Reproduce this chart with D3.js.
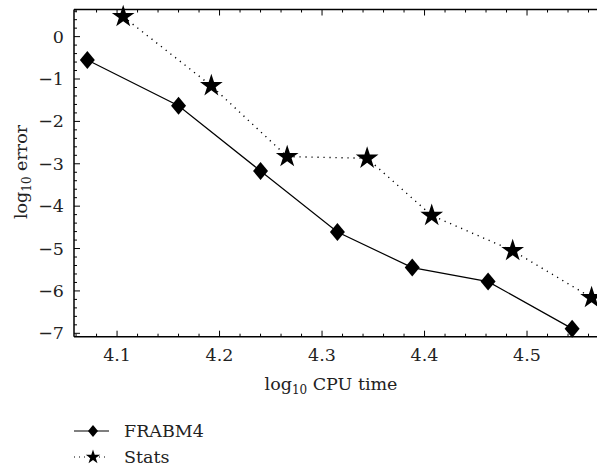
<!DOCTYPE html>
<html>
<head>
<meta charset="utf-8">
<script src="https://cdn.jsdelivr.net/npm/d3@7"></script>
<style>
  body { margin: 0; background: #fff; }
  text { font-family: "DejaVu Serif", "Liberation Serif", serif; fill: #222; }
</style>
</head>
<body>
<svg id="chart" width="597" height="467"></svg>
<script>
// data
const frabmX = [4.071, 4.160, 4.240, 4.315, 4.388, 4.462, 4.544];
const frabmY = [-0.55, -1.63, -3.17, -4.61, -5.45, -5.78, -6.89];
const statsX = [4.106, 4.192, 4.266, 4.344, 4.407, 4.486, 4.563];
const statsY = [0.47, -1.16, -2.83, -2.87, -4.22, -5.05, -6.16];
const xTicks = [4.1, 4.2, 4.3, 4.4, 4.5];
const yTicks = [0, -1, -2, -3, -4, -5, -6, -7];
const seriesNames = ["FRABM4", "Stats"];

const svg = d3.select("#chart");
const mLeft = 74, mTop = 9.5, mRight = 608, mBottom = 336.7;
const fs = 17.5, subFs = 12;

const x = d3.scaleLinear().domain([4.058, 4.579]).range([mLeft, mRight]);
const y = d3.scaleLinear().domain([-7.08, 0.64]).range([mBottom, mTop]);

// frame lines (right side runs off the picture)
const frame = svg.append("g").attr("stroke", "#000").attr("stroke-width", 1.5);
frame.append("line").attr("x1", mLeft).attr("x2", mRight).attr("y1", mTop).attr("y2", mTop);
frame.append("line").attr("x1", mLeft).attr("x2", mRight).attr("y1", mBottom).attr("y2", mBottom);
frame.append("line").attr("x1", mLeft).attr("x2", mLeft).attr("y1", mTop).attr("y2", mBottom);

// minor ticks
const xMinor = d3.range(4.06, 4.58, 0.02).filter(v => !xTicks.some(t => Math.abs(t - v) < 1e-6));
const yMinor = d3.range(-7, 0.65, 0.2).filter(v => !yTicks.some(t => Math.abs(t - v) < 1e-6));

const ticks = svg.append("g").attr("stroke", "#000").attr("stroke-width", 1);
xTicks.forEach(v => {
  ticks.append("line").attr("x1", x(v)).attr("x2", x(v)).attr("y1", mBottom).attr("y2", mBottom - 6);
  ticks.append("line").attr("x1", x(v)).attr("x2", x(v)).attr("y1", mTop).attr("y2", mTop + 6);
});
xMinor.forEach(v => {
  ticks.append("line").attr("x1", x(v)).attr("x2", x(v)).attr("y1", mBottom).attr("y2", mBottom - 3);
  ticks.append("line").attr("x1", x(v)).attr("x2", x(v)).attr("y1", mTop).attr("y2", mTop + 3);
});
yTicks.forEach(v => {
  ticks.append("line").attr("x1", mLeft).attr("x2", mLeft + 6).attr("y1", y(v)).attr("y2", y(v));
});
yMinor.forEach(v => {
  ticks.append("line").attr("x1", mLeft).attr("x2", mLeft + 3).attr("y1", y(v)).attr("y2", y(v));
});

// tick labels
svg.append("g").selectAll("text").data(xTicks).join("text")
  .attr("x", d => x(d)).attr("y", mBottom + 24)
  .attr("text-anchor", "middle").attr("font-size", fs)
  .text(d => d.toFixed(1));

svg.append("g").selectAll("text").data(yTicks).join("text")
  .attr("x", mLeft - 10).attr("y", d => y(d) + 6)
  .attr("text-anchor", "end").attr("font-size", fs)
  .text(d => d === 0 ? "0" : "\u2212" + Math.abs(d));

// axis titles
const xt = svg.append("text").attr("x", 331).attr("y", 390)
  .attr("text-anchor", "middle").attr("font-size", fs);
xt.append("tspan").text("log");
xt.append("tspan").attr("font-size", subFs).attr("dy", 4).text("10");
xt.append("tspan").attr("dy", -4).text(" CPU time");

const yt = svg.append("text").attr("transform", "translate(27,172) rotate(-90)")
  .attr("text-anchor", "middle").attr("font-size", fs);
yt.append("tspan").text("log");
yt.append("tspan").attr("font-size", subFs).attr("dy", 4).text("10");
yt.append("tspan").attr("dy", -4).text(" error");

// lines
const frabm = frabmX.map((v, i) => [v, frabmY[i]]);
const stats = statsX.map((v, i) => [v, statsY[i]]);
const line = d3.line().x(d => x(d[0])).y(d => y(d[1]));

const plot = svg.append("g");
plot.append("path").datum(frabm).attr("d", line)
  .attr("fill", "none").attr("stroke", "#000").attr("stroke-width", 1.2);
plot.append("path").datum(stats).attr("d", line)
  .attr("fill", "none").attr("stroke", "#000").attr("stroke-width", 1.4)
  .attr("stroke-dasharray", "1.2,4.8");

function diamond(w, h) {
  return `M0,${-h / 2}L${w / 2},0L0,${h / 2}L${-w / 2},0Z`;
}
const star = d3.symbol().type(d3.symbolStar);

plot.selectAll(".dia").data(frabm).join("path")
  .attr("transform", d => `translate(${x(d[0])},${y(d[1])})`)
  .attr("d", diamond(15, 18)).attr("fill", "#000");
plot.selectAll(".star").data(stats).join("path")
  .attr("transform", d => `translate(${x(d[0])},${y(d[1])})`)
  .attr("d", star.size(160)()).attr("fill", "#000");

// legend
const lg = svg.append("g");
lg.append("line").attr("x1", 74).attr("x2", 109).attr("y1", 431).attr("y2", 431)
  .attr("stroke", "#000").attr("stroke-width", 1.2);
lg.append("path").attr("transform", "translate(93,431)").attr("d", diamond(10, 12)).attr("fill", "#000");
lg.append("text").attr("x", 124).attr("y", 437).attr("font-size", fs).text(seriesNames[0]);

lg.append("line").attr("x1", 74).attr("x2", 109).attr("y1", 457).attr("y2", 457)
  .attr("stroke", "#000").attr("stroke-width", 1.2).attr("stroke-dasharray", "1,4");
lg.append("path").attr("transform", "translate(93,457)").attr("d", star.size(65)()).attr("fill", "#000");
lg.append("text").attr("x", 124).attr("y", 463).attr("font-size", fs).text(seriesNames[1]);
</script>
</body>
</html>
